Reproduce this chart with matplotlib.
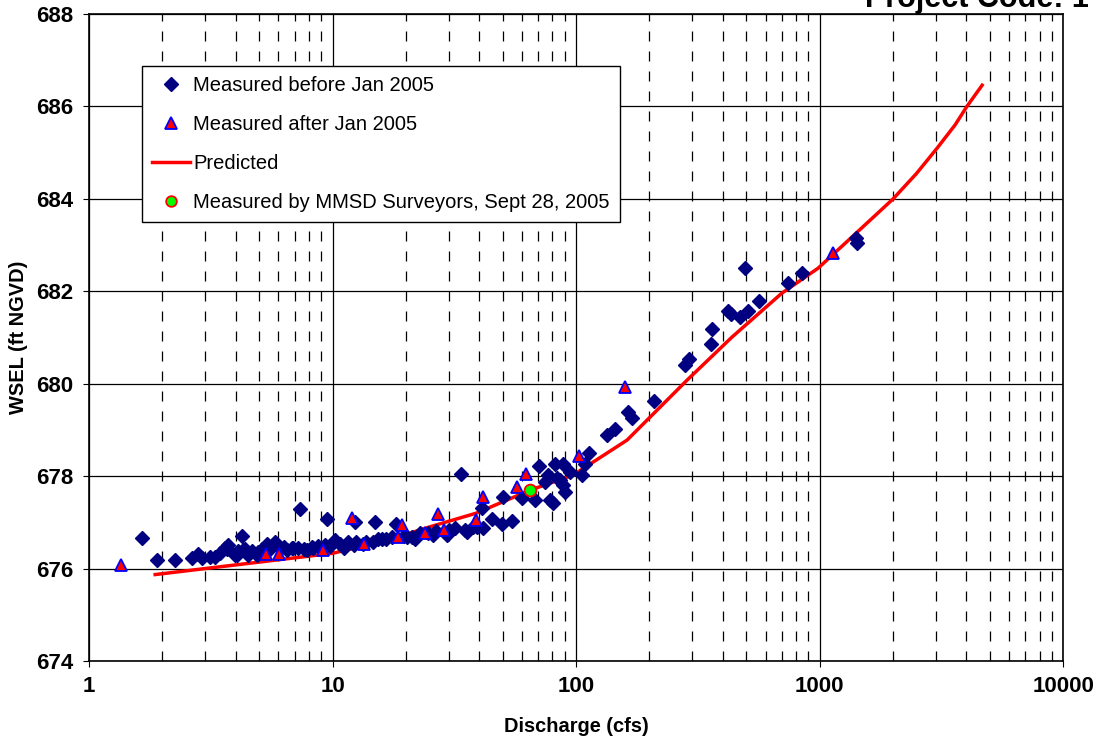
import matplotlib
matplotlib.use('Agg')
import matplotlib.pyplot as plt
from matplotlib.ticker import FixedLocator, NullFormatter, LogLocator

plt.rcParams['font.family'] = ['Liberation Sans', 'DejaVu Sans']

# measured before Jan 2005 (discharge cfs, WSEL ft)
before_q = [1.65, 1.90, 2.26, 2.66, 2.79, 2.90, 3.14, 3.29, 3.45, 3.62, 3.68, 3.73,
            3.98, 4.04, 4.09, 4.24, 4.30, 4.37, 4.51, 4.67, 4.88, 4.94, 5.13, 5.37,
            5.54, 5.81, 6.09, 6.32, 6.48, 6.82, 6.90, 7.22, 7.36, 7.64, 7.83, 8.24,
            8.34, 8.71, 9.31, 9.47, 9.77, 10.2, 10.7, 11.1, 11.6, 12.2, 12.4, 12.5,
            13.4, 13.7, 14.7, 14.9, 15.4, 15.9, 16.6, 17.5, 18.3, 19.7, 20.2, 21.2,
            21.8, 22.9, 24.7, 25.9, 26.6, 29.4, 30.1, 31.8, 33.6, 35.0, 35.6, 37.9,
            39.1, 41.0, 41.6, 45.1, 49.5, 50.3, 54.4, 59.8, 67.9, 70.5, 74.6, 77.0,
            78.2, 80.7, 82.0, 83.3, 85.9, 88.7, 88.7, 90.2, 94.5, 105.5, 108.9, 113.4,
            133.6, 144.6, 164, 169, 208, 280, 292, 358, 361, 422, 432, 472,
            494, 507, 564, 745, 850, 1409, 1422]
before_w = [676.66, 676.18, 676.18, 676.23, 676.31, 676.22, 676.25, 676.25, 676.33, 676.44, 676.43, 676.50,
            676.29, 676.29, 676.38, 676.70, 676.40, 676.42, 676.29, 676.38, 676.29, 676.36, 676.42, 676.54,
            676.42, 676.58, 676.44, 676.46, 676.40, 676.44, 676.44, 676.44, 677.28, 676.42, 676.40, 676.46,
            676.44, 676.48, 676.51, 677.08, 676.48, 676.61, 676.54, 676.44, 676.58, 676.51, 677.00, 676.57,
            676.54, 676.58, 676.58, 677.01, 676.65, 676.65, 676.65, 676.68, 676.97, 676.70, 676.69, 676.68,
            676.65, 676.77, 676.77, 676.72, 676.81, 676.72, 676.83, 676.87, 678.04, 676.83, 676.79, 676.90,
            676.90, 677.30, 676.87, 677.08, 676.96, 677.55, 677.03, 677.52, 677.48, 678.22, 677.88, 678.02,
            677.48, 677.41, 678.27, 677.95, 677.91, 678.27, 677.80, 677.66, 678.09, 678.02, 678.27, 678.51,
            678.89, 679.03, 679.39, 679.25, 679.63, 680.40, 680.53, 680.87, 681.18, 681.58, 681.51, 681.45,
            682.51, 681.57, 681.79, 682.19, 682.40, 683.15, 683.04]

# measured after Jan 2005
after_q = [1.35, 5.32, 6.01, 9.12, 12.0, 13.5, 18.6, 19.2, 24.0, 27.2, 28.8,
           38.8, 41.4, 57.1, 62.1, 102.9, 158.9, 1140]
after_w = [676.07, 676.31, 676.31, 676.41, 677.09, 676.53, 676.69, 676.95, 676.76, 677.17, 676.83,
           677.05, 677.55, 677.77, 678.04, 678.44, 679.92, 682.82]

# predicted rating curve
pred_q = [1.87, 3.0, 5.0, 10, 16.7, 25, 39, 65, 97, 162, 286, 437, 700, 986,
          1400, 2004, 2500, 3040, 3600, 4025, 4650]
pred_w = [675.87, 676.0, 676.14, 676.33, 676.61, 676.9, 677.2, 677.7, 678.02, 678.78,
          680.08, 681.01, 681.96, 682.5, 683.24, 684.0, 684.55, 685.1, 685.6, 686.0, 686.46]

# MMSD survey point
mmsd_q = [64.5]
mmsd_w = [677.70]

fig = plt.figure(figsize=(10.96, 7.4), dpi=100)
ax = fig.add_axes([0.0812, 0.1068, 0.8888, 0.8742])

ax.plot(pred_q, pred_w, color='red', lw=2.5, label='Predicted', zorder=3)
ax.plot(before_q, before_w, ls='none', marker='D', ms=7.5, color='#000080',
        label='Measured before Jan 2005', zorder=4)
ax.plot(after_q, after_w, ls='none', marker='^', ms=9, mfc='red', mec='blue', mew=1.3,
        label='Measured after Jan 2005', zorder=5)
ax.plot(mmsd_q, mmsd_w, ls='none', marker='o', ms=8.5, mfc='#00ff00', mec='red', mew=1.3,
        label='Measured by MMSD Surveyors, Sept 28, 2005', zorder=6)

ax.set_xscale('log')
ax.set_xlim(1, 10000)
ax.set_ylim(674, 688)
ax.xaxis.set_major_locator(FixedLocator([1, 10, 100, 1000, 10000]))
ax.set_xticklabels(['1', '10', '100', '1000', '10000'])
ax.xaxis.set_minor_locator(LogLocator(base=10, subs=range(2, 10)))
ax.xaxis.set_minor_formatter(NullFormatter())
ax.set_yticks(range(674, 689, 2))

ax.grid(which='major', axis='both', color='black', lw=0.9)
ax.grid(which='minor', axis='x', color='black', lw=0.9, ls=(0, (8, 8)))
ax.tick_params(which='major', length=4, color='black', labelsize=16, pad=7)
ax.tick_params(which='minor', length=0)
for lab in ax.get_xticklabels() + ax.get_yticklabels():
    lab.set_fontweight('bold')
for s in ax.spines.values():
    s.set_color('black')
    s.set_linewidth(1.2)

ax.set_xlabel('Discharge (cfs)', fontsize=14.4, fontweight='bold', labelpad=14)
ax.set_ylabel('WSEL (ft NGVD)', fontsize=14.4, fontweight='bold', labelpad=6)

handles, labels = ax.get_legend_handles_labels()
order = [1, 2, 0, 3]
leg = ax.legend([handles[i] for i in order], [labels[i] for i in order],
                loc='upper left', bbox_to_anchor=(0.0544, 0.9196), borderaxespad=0,
                fontsize=14.5, fancybox=False, framealpha=1, edgecolor='black',
                handlelength=1.9, handletextpad=0.15, labelspacing=0.985,
                borderpad=0.5, markerscale=0.9)
leg.get_frame().set_linewidth(1.0)

fig.text(865 / 1096, 1 - 7 / 740, 'Project Code: 1', fontsize=22, fontweight='bold',
         va='baseline', ha='left')

fig.savefig('out.png', dpi=100)
